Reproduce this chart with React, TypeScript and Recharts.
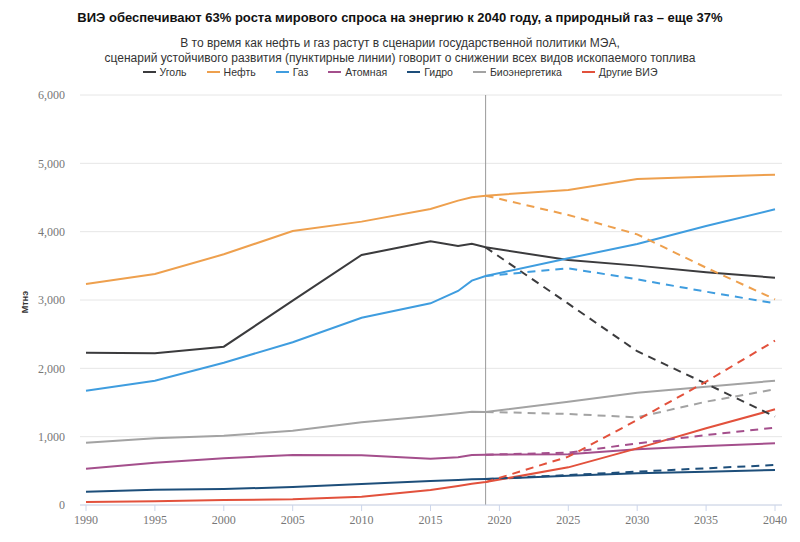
import React from "react";
import { LineChart, Line, XAxis, YAxis, CartesianGrid, ReferenceLine } from "recharts";

const years = [1990, 1995, 2000, 2005, 2010, 2015, 2017, 2018, 2019, 2025, 2030, 2035, 2040];

// сценарий государственной политики (сплошные линии)
const coal = [2229, 2220, 2317, 2990, 3659, 3859, 3790, 3824, 3771, 3585, 3503, 3405, 3327];
const oil = [3234, 3381, 3669, 4010, 4147, 4332, 4454, 4503, 4527, 4610, 4771, 4805, 4834];
const gas = [1673, 1819, 2083, 2381, 2741, 2951, 3132, 3283, 3351, 3610, 3820, 4083, 4327];
const nuclear = [532, 619, 683, 732, 727, 678, 698, 732, 736, 741, 815, 863, 902];
const hydro = [195, 224, 234, 263, 307, 351, 365, 376, 380, 429, 463, 488, 512];
const bio = [912, 976, 1014, 1087, 1210, 1302, 1342, 1366, 1362, 1512, 1644, 1732, 1819];
const otherRen = [44, 54, 73, 83, 122, 220, 278, 310, 335, 551, 829, 1122, 1400];

// сценарий устойчивого развития (пунктир), с 2019 года
const sdsYears = [2019, 2025, 2030, 2035, 2040];
const coalSds = [3771, 2946, 2250, 1775, 1293];
const oilSds = [4527, 4244, 3961, 3473, 3010];
const gasSds = [3351, 3464, 3303, 3122, 2951];
const nuclearSds = [736, 766, 902, 1024, 1131];
const hydroSds = [380, 439, 488, 537, 585];
const bioSds = [1362, 1332, 1283, 1512, 1693];
const otherRenSds = [335, 707, 1244, 1805, 2405];

const xTicks = [1990, 1995, 2000, 2005, 2010, 2015, 2020, 2025, 2030, 2035, 2040];
const yTicks = [0, 1000, 2000, 3000, 4000, 5000, 6000];

const series = [
  { key: "coal", name: "Уголь", color: "#3b3b3d", main: coal, sds: coalSds },
  { key: "oil", name: "Нефть", color: "#eea04e", main: oil, sds: oilSds },
  { key: "gas", name: "Газ", color: "#3f9ddf", main: gas, sds: gasSds },
  { key: "nuclear", name: "Атомная", color: "#a44f8c", main: nuclear, sds: nuclearSds },
  { key: "hydro", name: "Гидро", color: "#1d4e7a", main: hydro, sds: hydroSds },
  { key: "bio", name: "Биоэнергетика", color: "#a3a3a3", main: bio, sds: bioSds },
  { key: "other", name: "Другие ВИЭ", color: "#e2513c", main: otherRen, sds: otherRenSds },
];

const data = years.map((year, i) => {
  const row: Record<string, number> = { year };
  const j = sdsYears.indexOf(year);
  series.forEach((s) => {
    row[s.key] = s.main[i];
    if (j >= 0) row[s.key + "Sds"] = s.sds[j];
  });
  return row;
});

const font = "'Liberation Sans', Arial, sans-serif";
const tickFont = { fontFamily: "'Liberation Serif', serif", fontSize: 12, fill: "#777" };

export default function App() {
  return (
    <div style={{ position: "relative", width: 800, height: 542, background: "#fff", fontFamily: font }}>
      <style>{`body{margin:0}`}</style>
      <div style={{ position: "absolute", top: 10, left: 0, width: 800, textAlign: "center", fontSize: 13, fontWeight: "bold", color: "#111" }}>
        ВИЭ обеспечивают 63% роста мирового спроса на энергию к 2040 году, а природный газ – еще 37%
      </div>
      <div style={{ position: "absolute", top: 36, left: 0, width: 800, textAlign: "center", fontSize: 12, lineHeight: "15px", color: "#333" }}>
        В то время как нефть и газ растут в сценарии государственной политики МЭА,
        <br />
        сценарий устойчивого развития (пунктирные линии) говорит о снижении всех видов ископаемого топлива
      </div>
      <div style={{ position: "absolute", top: 66, left: 0, width: 800, display: "flex", justifyContent: "center", gap: 20, fontSize: 10.5, color: "#333" }}>
        {series.map((s) => (
          <div key={s.key} style={{ display: "flex", alignItems: "center", gap: 4 }}>
            <span style={{ display: "inline-block", width: 13, height: 2, background: s.color }} />
            <span>{s.name}</span>
          </div>
        ))}
      </div>
      <div style={{ position: "absolute", left: 5, top: 297, width: 40, textAlign: "center", transform: "rotate(-90deg)", fontSize: 9, fontWeight: "bold", color: "#333" }}>
        Мтнэ
      </div>
      <LineChart width={800} height={542} data={data} margin={{ top: 95, right: 18, bottom: 7, left: 0 }}>
        <CartesianGrid vertical={false} stroke="#e6e6e6" />
        <XAxis
          dataKey="year"
          type="number"
          domain={[1990, 2040]}
          ticks={xTicks}
          padding={{ left: 6, right: 7 }}
          height={30}
          stroke="#ccd6eb"
          tickSize={6}
          tickMargin={4}
          tick={tickFont}
          interval={0}
        />
        <YAxis
          domain={[0, 6000]}
          ticks={yTicks}
          width={80}
          axisLine={false}
          tickLine={false}
          tickMargin={9}
          tick={tickFont}
          tickFormatter={(v: number) => v.toLocaleString("en-US")}
        />
        <ReferenceLine x={2019} stroke="#999" strokeWidth={1} />
        {series.map((s) => (
          <Line
            key={s.key}
            dataKey={s.key}
            name={s.name}
            stroke={s.color}
            strokeWidth={2}
            dot={false}
            type="linear"
            isAnimationActive={false}
          />
        ))}
        {series.map((s) => (
          <Line
            key={s.key + "Sds"}
            dataKey={s.key + "Sds"}
            stroke={s.color}
            strokeWidth={2}
            strokeDasharray="8 6"
            dot={false}
            type="linear"
            legendType="none"
            isAnimationActive={false}
          />
        ))}
      </LineChart>
    </div>
  );
}
